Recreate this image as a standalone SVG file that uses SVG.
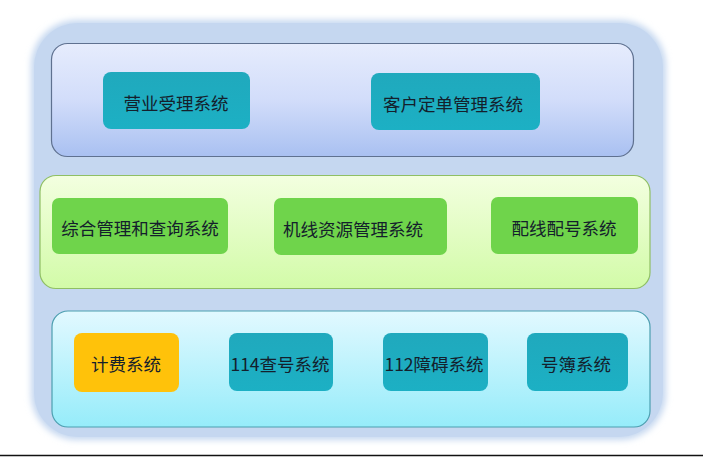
<svg xmlns="http://www.w3.org/2000/svg" width="703" height="457" viewBox="0 0 703 457">
<defs>
<linearGradient id="gTop" x1="0" y1="0" x2="0" y2="1">
<stop offset="0" stop-color="#e6ecfd"/>
<stop offset="0.5" stop-color="#d2ddfa"/>
<stop offset="1" stop-color="#a9c0f1"/>
</linearGradient>
<linearGradient id="gMid" x1="0" y1="0" x2="0" y2="1">
<stop offset="0" stop-color="#f3ffe0"/>
<stop offset="1" stop-color="#d2fba8"/>
</linearGradient>
<linearGradient id="gBot" x1="0" y1="0" x2="0" y2="1">
<stop offset="0" stop-color="#e2f9ff"/>
<stop offset="1" stop-color="#96ecfa"/>
</linearGradient>
<linearGradient id="gTeal" x1="0" y1="0" x2="0" y2="1">
<stop offset="0" stop-color="#20a9bd"/>
<stop offset="1" stop-color="#1cb0c4"/>
</linearGradient>
<linearGradient id="gRefl" x1="0" y1="0" x2="0" y2="1">
<stop offset="0" stop-color="#ffffff" stop-opacity="0.35"/>
<stop offset="1" stop-color="#ffffff" stop-opacity="0"/>
</linearGradient>
<filter id="soft" x="-10%" y="-10%" width="120%" height="120%">
<feGaussianBlur stdDeviation="3"/>
</filter>
</defs>
<style>
.t{font-family:"Noto Sans CJK SC","Liberation Sans",sans-serif;font-size:17.5px;fill:#14202c;text-anchor:middle;dominant-baseline:central}
.teal{fill:url(#gTeal)}
.green{fill:#6fd44b}
.orange{fill:#ffc20a}
</style>
<rect x="0" y="0" width="703" height="457" fill="#ffffff"/>
<rect x="31" y="20" width="635" height="420" rx="46" ry="46" fill="#c6d8f0" filter="url(#soft)"/>
<rect x="34" y="23" width="629" height="414" rx="44" ry="44" fill="#c5d7f0"/>

<g id="layer-top">
<rect x="51.5" y="43.5" width="582" height="113" rx="16" ry="16" fill="url(#gTop)" stroke="#5f7190" stroke-width="1.2"/>
</g>
<g id="layer-mid">
<rect x="40" y="175.5" width="610" height="113" rx="16" ry="16" fill="url(#gMid)" stroke="#8fbf64" stroke-width="1.2"/>
</g>
<g id="layer-bot">
<rect x="52" y="311" width="598" height="116" rx="16" ry="16" fill="url(#gBot)" stroke="#4c9fb0" stroke-width="1.2"/>
</g>

<g id="n-yingye">
<rect x="103" y="72" width="147" height="57" rx="8" class="teal"/>
<text x="176" y="102" class="t">营业受理系统</text>
</g>
<g id="n-kehu">
<rect x="371" y="73" width="169" height="57" rx="8" class="teal"/>
<text x="453" y="103" class="t">客户定单管理系统</text>
</g>

<g id="n-zonghe">
<rect x="52" y="198" width="176" height="56" rx="7" class="green"/>
<text x="140" y="227" class="t">综合管理和查询系统</text>
</g>
<g id="n-jixian">
<rect x="274" y="198" width="173" height="57" rx="7" class="green"/>
<text x="353" y="228" class="t">机线资源管理系统</text>
</g>
<g id="n-peixian">
<rect x="491" y="197" width="147" height="57" rx="7" class="green"/>
<text x="564" y="227" class="t">配线配号系统</text>
</g>

<g id="n-jifei">
<rect x="74" y="333" width="105" height="59" rx="8" class="orange"/>
<text x="126" y="363" class="t">计费系统</text>
</g>
<g id="n-114">
<rect x="229" y="333" width="104" height="58" rx="8" class="teal"/>
<text x="280" y="363" class="t">114查号系统</text>
</g>
<g id="n-112">
<rect x="383" y="333" width="105" height="58" rx="8" class="teal"/>
<text x="434" y="363" class="t">112障碍系统</text>
</g>
<g id="n-haobu">
<rect x="527" y="333" width="101" height="58" rx="8" class="teal"/>
<text x="576" y="363" class="t">号簿系统</text>
</g>

<g id="connectors"></g>
<line x1="0" y1="455.5" x2="703" y2="455.5" stroke="#111111" stroke-width="1.5"/>
</svg>
